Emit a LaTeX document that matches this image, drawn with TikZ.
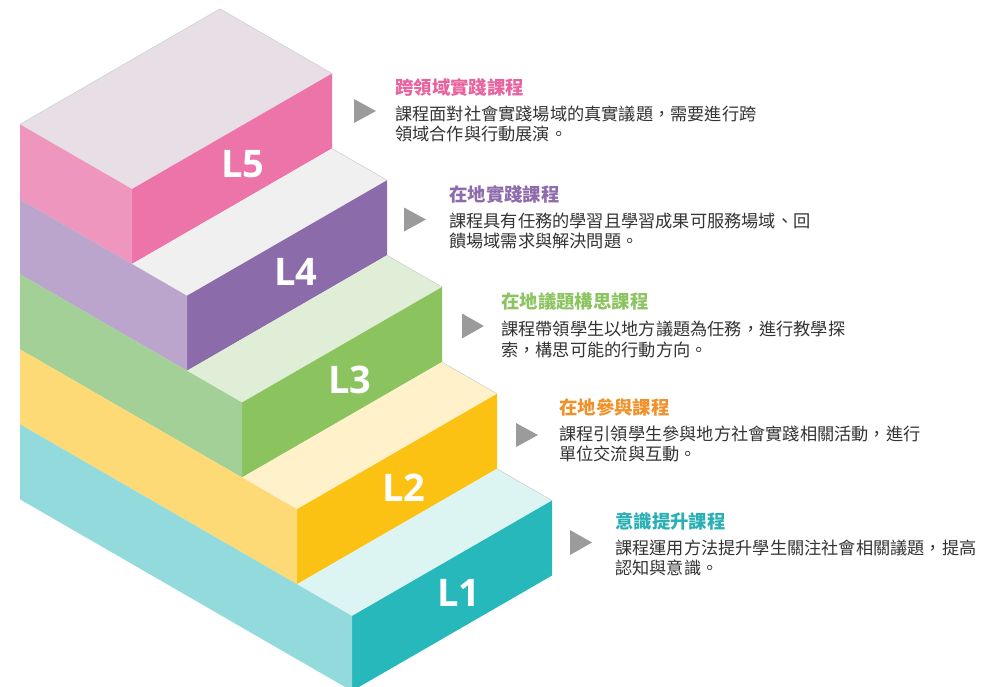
\documentclass[tikz,border=0pt]{standalone}
\usepackage{fontspec}
\setmainfont{Noto Sans}
\newfontfamily\cjk{Noto Sans CJK TC}
\newfontfamily\labfont{Open Sans}
\definecolor{t5}{HTML}{E8DFE6}\definecolor{f5}{HTML}{EC74A8}\definecolor{s5}{HTML}{EE96BE}
\definecolor{t4}{HTML}{F0F0F0}\definecolor{f4}{HTML}{8C6BAA}\definecolor{s4}{HTML}{BBA5CC}
\definecolor{t3}{HTML}{E0EED7}\definecolor{f3}{HTML}{8BC45F}\definecolor{s3}{HTML}{A2D096}
\definecolor{t2}{HTML}{FFF1CA}\definecolor{f2}{HTML}{FCC213}\definecolor{s2}{HTML}{FDDA75}
\definecolor{t1}{HTML}{DCF5F2}\definecolor{f1}{HTML}{27B8BC}\definecolor{s1}{HTML}{93DADC}
\definecolor{h5}{HTML}{E8649F}\definecolor{h4}{HTML}{8E6BAA}\definecolor{h3}{HTML}{8DC462}
\definecolor{h2}{HTML}{F0922B}\definecolor{h1}{HTML}{2AAFB5}
\definecolor{bodyc}{HTML}{333333}\definecolor{arrowc}{HTML}{9B9B9B}\definecolor{edgec}{HTML}{D0D0D0}
\tikzset{
  lvl/.style={text=white, inner sep=0pt, font=\labfont\bfseries\fontsize{38}{38}\selectfont},
  head/.style={anchor=west, inner sep=0pt, font=\cjk\bfseries\fontsize{18.4}{20}\selectfont},
  body/.style={anchor=west, inner sep=0pt, text=bodyc, font=\cjk\fontsize{17.2}{20}\selectfont},
  tri/.style={fill=arrowc},
  rim/.style={draw=edgec, line width=0.6pt}
}
\begin{document}
\begin{tikzpicture}[x=1pt,y=-1pt]
\useasboundingbox (0,0) rectangle (999,686);
\clip (0,0) rectangle (999,686);
% ---- L5 ----
\fill[t5] (132,189) -- (332,73.53) -- (220,8.87) -- (20,124.34) -- cycle;
\draw[rim] (20,124.34) -- (220,8.87) -- (332,73.53);
\fill[f5] (132,189) -- (332,73.53) -- (332,148.53) -- (132,264) -- cycle;
\fill[s5] (20,124.34) -- (132,189) -- (132,264) -- (20,199.34) -- cycle;
% ---- L4 ----
\fill[t4] (187,295.75) -- (387,180.28) -- (332,148.53) -- (132,264) -- cycle;
\draw[rim] (332,148.53) -- (387,180.28);
\fill[f4] (187,295.75) -- (387,180.28) -- (387,255.28) -- (187,370.75) -- cycle;
\fill[s4] (20,199.34) -- (187,295.75) -- (187,370.75) -- (20,274.33) -- cycle;
% ---- L3 ----
\fill[t3] (242,402.5) -- (442,287.03) -- (387,255.28) -- (187,370.75) -- cycle;
\draw[rim] (387,255.28) -- (442,287.03);
\fill[f3] (242,402.5) -- (442,287.03) -- (442,362.03) -- (242,477.5) -- cycle;
\fill[s3] (20,274.33) -- (242,402.5) -- (242,477.5) -- (20,349.33) -- cycle;
% ---- L2 ----
\fill[t2] (297,509.25) -- (497,393.78) -- (442,362.03) -- (242,477.5) -- cycle;
\draw[rim] (442,362.03) -- (497,393.78);
\fill[f2] (297,509.25) -- (497,393.78) -- (497,468.78) -- (297,584.25) -- cycle;
\fill[s2] (20,349.33) -- (297,509.25) -- (297,584.25) -- (20,424.32) -- cycle;
% ---- L1 ----
\fill[t1] (352,616) -- (552,500.53) -- (497,468.78) -- (297,584.25) -- cycle;
\draw[rim] (497,468.78) -- (552,500.53);
\fill[f1] (352,616) -- (552,500.53) -- (552,575.53) -- (352,691) -- cycle;
\fill[s1] (20,424.32) -- (352,616) -- (352,691) -- (20,499.32) -- cycle;
% ---- level labels ----
\node[lvl] (l5) at (243,164) {L5};
\node[lvl] (l4) at (296,272) {L4};
\node[lvl] (l3) at (350,380) {L3};
\node[lvl] (l2) at (404,488) {L2};
\node[lvl] (l1) at (459,593) {L1};
% ---- arrows ----
\fill[tri] (354,99) -- (376,111) -- (354,123) -- cycle;
\fill[tri] (404,207.5) -- (426,219.5) -- (404,231.5) -- cycle;
\fill[tri] (462,313.5) -- (484,326) -- (462,338.5) -- cycle;
\fill[tri] (516,423) -- (538,435) -- (516,447) -- cycle;
\fill[tri] (570,530) -- (592,542.5) -- (570,555) -- cycle;
% ---- texts ----
\node[head, text=h5] (hd5) at (395,87) {跨領域實踐課程};
\node[body] (b5a) at (395,114) {課程面對社會實踐場域的真實議題，需要進行跨};
\node[body] (b5b) at (395,133.5) {領域合作與行動展演。};
\node[head, text=h4] (hd4) at (449,194) {在地實踐課程};
\node[body] (b4a) at (449,221) {課程具有任務的學習且學習成果可服務場域、回};
\node[body] (b4b) at (449,241) {饋場域需求與解決問題。};
\node[head, text=h3] (hd3) at (501,302) {在地議題構思課程};
\node[body] (b3a) at (501,329) {課程帶領學生以地方議題為任務，進行教學探};
\node[body] (b3b) at (501,349.5) {索，構思可能的行動方向。};
\node[head, text=h2] (hd2) at (559,407) {在地參與課程};
\node[body] (b2a) at (559,434) {課程引領學生參與地方社會實踐相關活動，進行};
\node[body] (b2b) at (559,454) {單位交流與互動。};
\node[head, text=h1] (hd1) at (615,521) {意識提升課程};
\node[body] (b1a) at (615,548) {課程運用方法提升學生關注社會相關議題，提高};
\node[body] (b1b) at (615,568) {認知與意識。};
\end{tikzpicture}
\end{document}
